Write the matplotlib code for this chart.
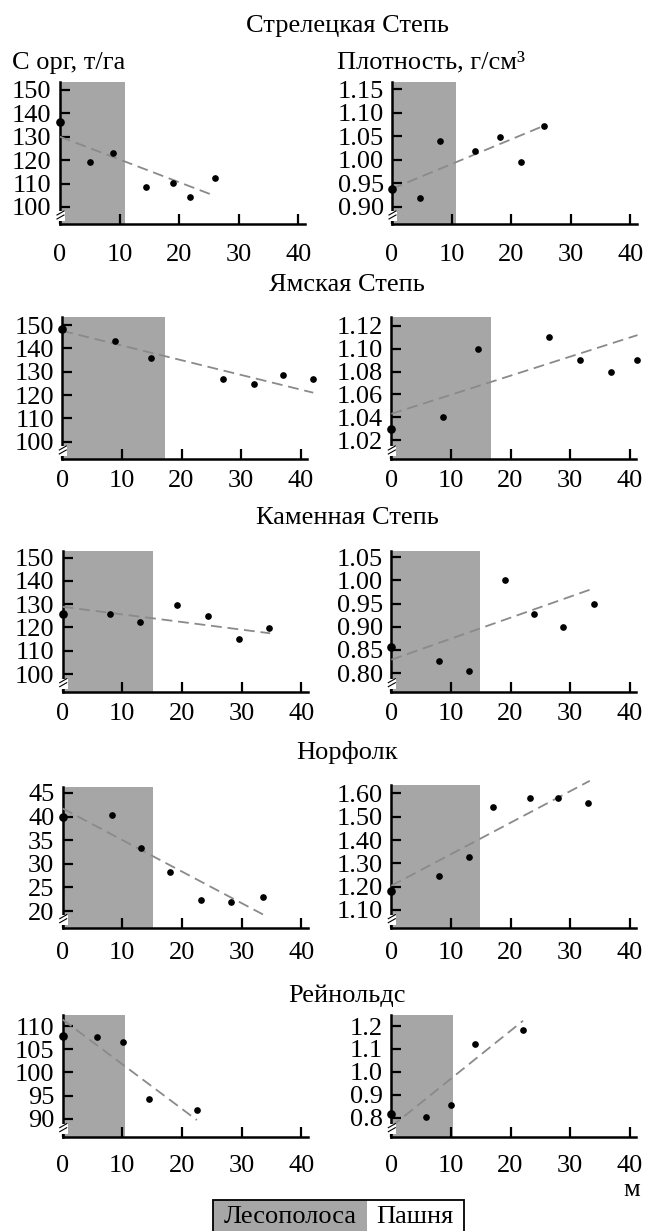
import matplotlib
matplotlib.use("Agg")
import matplotlib.pyplot as plt
from matplotlib.patches import Rectangle
from matplotlib.lines import Line2D

# ---------------- data ----------------
sites = ['Стрелецкая Степь', 'Ямская Степь', 'Каменная Степь', 'Норфолк', 'Рейнольдс']
ylabel_c = 'С орг, т/га'
ylabel_rho = 'Плотность, г/см³'
xlabel = 'м'
legend_labels = ['Лесополоса', 'Пашня']

xticks = [0, 10, 20, 30, 40]

# forest belt extent (m)
band_c = [10.9, 17.2, 15.1, 15.1, 10.5]
band_rho = [10.8, 16.8, 14.9, 14.9, 10.4]

# Corg, t/ha
c_x_strel = [0, 5.0, 8.9, 14.4, 18.9, 21.8, 26.0]
c_y_strel = [136.2, 119.4, 123.2, 108.5, 110.4, 104.1, 112.4]
c_x_yams = [0, 8.9, 14.9, 26.9, 32.2, 37.1, 42.1]
c_y_yams = [148.2, 143.3, 135.7, 126.7, 124.9, 128.4, 126.7]
c_x_kam = [0, 8.0, 13.0, 19.2, 24.4, 29.5, 34.6]
c_y_kam = [125.7, 125.7, 122.4, 129.8, 124.8, 114.9, 119.9]
c_x_norf = [0, 8.2, 13.1, 18.0, 23.2, 28.2, 33.6]
c_y_norf = [40.0, 40.4, 33.4, 28.3, 22.3, 21.9, 23.0]
c_x_reyn = [0, 5.8, 10.1, 14.5, 22.5]
c_y_reyn = [107.9, 107.6, 106.5, 94.2, 91.8]

# trend lines for Corg: (x0, x1), (y0, y1)
c_trend_x = [(0, 26.0), (0, 42.1), (0, 34.8), (0, 33.6), (0, 22.5)]
c_trend_y = [(130.0, 104.7), (147.5, 121.0), (128.9, 117.5), (41.7, 19.3), (111.4, 89.7)]

# bulk density, g/cm3
r_x_strel = [0, 4.7, 8.0, 14.0, 18.2, 21.6, 25.5]
r_y_strel = [0.938, 0.919, 1.039, 1.019, 1.049, 0.995, 1.072]
r_x_yams = [0, 8.7, 14.6, 26.4, 31.7, 36.8, 41.3]
r_y_yams = [1.030, 1.040, 1.100, 1.110, 1.090, 1.080, 1.090]
r_x_kam = [0, 8.0, 13.0, 19.1, 23.9, 28.8, 34.0]
r_y_kam = [0.857, 0.826, 0.804, 1.001, 0.927, 0.900, 0.949]
r_x_norf = [0, 8.0, 13.1, 17.0, 23.3, 27.9, 33.0]
r_y_norf = [1.181, 1.246, 1.326, 1.541, 1.580, 1.580, 1.557]
r_x_reyn = [0, 5.8, 10.0, 14.1, 22.1]
r_y_reyn = [0.816, 0.803, 0.854, 1.123, 1.181]

r_trend_x = [(0, 25.5), (0, 41.3), (0, 34.0), (0, 33.3), (0, 22.1)]
r_trend_y = [(0.938, 1.072), (1.043, 1.112), (0.829, 0.983), (1.204, 1.654), (0.761, 1.223)]

c_yticks = [[100, 110, 120, 130, 140, 150],
            [100, 110, 120, 130, 140, 150],
            [100, 110, 120, 130, 140, 150],
            [20, 25, 30, 35, 40, 45],
            [90, 95, 100, 105, 110]]
c_yticklabels = [[str(v) for v in t] for t in c_yticks]
r_yticks = [[0.90, 0.95, 1.00, 1.05, 1.10, 1.15],
            [1.02, 1.04, 1.06, 1.08, 1.10, 1.12],
            [0.80, 0.85, 0.90, 0.95, 1.00, 1.05],
            [1.10, 1.20, 1.30, 1.40, 1.50, 1.60],
            [0.8, 0.9, 1.0, 1.1, 1.2]]
r_yticklabels = [['0.90', '0.95', '1.00', '1.05', '1.10', '1.15'],
                 ['1.02', '1.04', '1.06', '1.08', '1.10', '1.12'],
                 ['0.80', '0.85', '0.90', '0.95', '1.00', '1.05'],
                 ['1.10', '1.20', '1.30', '1.40', '1.50', '1.60'],
                 ['0.8', '0.9', '1.0', '1.1', '1.2']]

c_xs = [c_x_strel, c_x_yams, c_x_kam, c_x_norf, c_x_reyn]
c_ys = [c_y_strel, c_y_yams, c_y_kam, c_y_norf, c_y_reyn]
r_xs = [r_x_strel, r_x_yams, r_x_kam, r_x_norf, r_x_reyn]
r_ys = [r_y_strel, r_y_yams, r_y_kam, r_y_norf, r_y_reyn]

# ---------------- layout (pixels) ----------------
W, H = 645, 1231
FONT = 'Liberation Serif'
FS = 19
plt.rcParams['font.family'] = [FONT, 'DejaVu Serif']

left_L = [60, 62.3, 62.7, 62.7, 62.7]
right_L = [392, 391.3, 391.3, 391.3, 391.3]
panel_w = 245
bottoms = [224, 459, 691.7, 927.7, 1136.7]
tops_c = [82, 317.3, 550.7, 786.7, 1015]
tops_r = [82, 317.3, 550.7, 785, 1015]
ylim_c = [(92.7, 153.4), (92.6, 153.3), (92.4, 153.0), (16.5, 46.3), (86.1, 112.4)]
ylim_r = [(0.863, 1.165), (1.0034, 1.1276), (0.760, 1.064), (1.024, 1.636), (0.717, 1.248)]
title_y = [26, 285, 518, 753, 996]
xpads = [14.5, 8.2, 8.2, 10.3, 13.0]

BAND = '#a6a6a6'
TREND = '#8a8a8a'

fig = plt.figure(figsize=(W / 100, H / 100), dpi=100)


def fx(x):
    return x / W


def fy(y):
    return 1 - y / H


def break_mark(L, B):
    fig.add_artist(Rectangle((fx(L - 3), fy(B - 3)), 8 / W, 10 / H, transform=fig.transFigure,
                             facecolor='white', edgecolor='none', zorder=5))
    for off in (0, 4):
        fig.add_artist(Line2D([fx(L - 3), fx(L + 4)], [fy(B - 5 - off), fy(B - 9 - off)],
                              transform=fig.transFigure, color='black', lw=0.8, zorder=6))


def panel(L, T, B, xs, ys, tx, ty, band, ylim, yt, ytl, xpad):
    ax = fig.add_axes([fx(L), fy(B), panel_w / W, (B - T) / H])
    ax.set_xlim(0, 41.1)
    ax.set_ylim(*ylim)
    ax.axvspan(0, band, color=BAND, lw=0, zorder=1)
    ax.plot(tx, ty, color=TREND, lw=1.3, dashes=(6, 3.2), zorder=3, clip_on=False)
    ax.plot(xs[1:], ys[1:], 'o', color='black', ms=3.8, zorder=4, clip_on=False)
    ax.plot(xs[:1], ys[:1], 'o', color='black', ms=5.2, zorder=4, clip_on=False)
    for s in ('top', 'right'):
        ax.spines[s].set_visible(False)
    for s in ('left', 'bottom'):
        ax.spines[s].set_linewidth(1.8)
    ax.set_xticks(xticks)
    ax.set_xticklabels([str(v) for v in xticks])
    ax.set_yticks(yt)
    ax.set_yticklabels(ytl)
    ax.tick_params(direction='in', length=7, width=1.6, labelsize=FS)
    ax.tick_params(axis='x', pad=xpad)
    ax.tick_params(axis='y', pad=6)
    ax.set_facecolor('none')
    break_mark(L, B)
    return ax


for i in range(5):
    panel(left_L[i], tops_c[i], bottoms[i], c_xs[i], c_ys[i], c_trend_x[i], c_trend_y[i],
          band_c[i], ylim_c[i], c_yticks[i], c_yticklabels[i], xpads[i])
    panel(right_L[i], tops_r[i], bottoms[i], r_xs[i], r_ys[i], r_trend_x[i], r_trend_y[i],
          band_rho[i], ylim_r[i], r_yticks[i], r_yticklabels[i], xpads[i])
    fig.text(fx(347), fy(title_y[i]), sites[i], ha='center', va='center', fontsize=FS)

fig.text(fx(12), fy(63), ylabel_c, ha='left', va='center', fontsize=FS)
fig.text(fx(337), fy(62), ylabel_rho, ha='left', va='center', fontsize=FS)
fig.text(fx(640), fy(1190), xlabel, ha='right', va='center', fontsize=FS)

# legend
fig.add_artist(Rectangle((fx(213), fy(1240)), (367 - 213) / W, 40 / H, transform=fig.transFigure,
                         facecolor=BAND, edgecolor='none', zorder=1))
fig.add_artist(Rectangle((fx(213), fy(1240)), (464 - 213) / W, 40 / H, transform=fig.transFigure,
                         facecolor='none', edgecolor='black', lw=1.3, zorder=2))
fig.text(fx(290), fy(1217), legend_labels[0], ha='center', va='center', fontsize=FS)
fig.text(fx(415), fy(1217), legend_labels[1], ha='center', va='center', fontsize=FS)

fig.savefig('out.png', dpi=100)
